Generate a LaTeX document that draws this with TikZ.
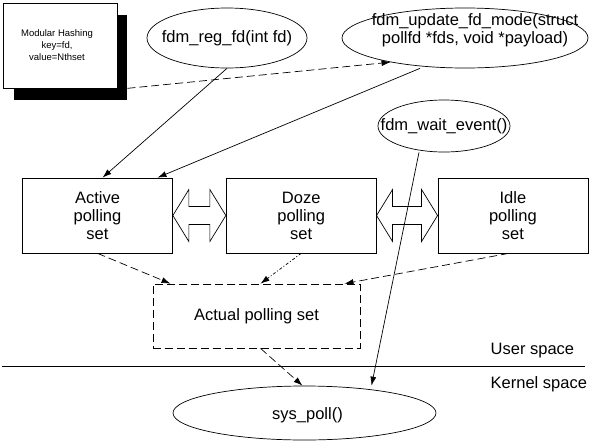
\documentclass[tikz,border=0pt]{standalone}
\usepackage{fontspec}
\setmainfont{Liberation Sans}
\usetikzlibrary{arrows.meta, positioning, shapes.geometric, calc}

\begin{document}
\begin{tikzpicture}[x=1pt,y=-1pt,line width=0.7pt,
    txt/.style={font=\fontsize{16.5}{18}\selectfont},
    setbox/.style={draw,txt,minimum width=150pt,minimum height=75pt,align=center,inner sep=0pt},
    ell/.style={draw,ellipse,inner sep=0pt},
    tip/.style={-{Latex[length=9pt,width=6pt]}},
    dsh/.style={dash pattern=on 8pt off 4pt},
    dshdot/.style={dash pattern=on 3pt off 2pt on 1pt off 2pt}]
  \useasboundingbox (0,0) rectangle (592,445);
  % hashing note with its drop shadow
  \node[fill=black,minimum width=113pt,minimum height=85pt] (hshadow) at (70.5,57.5) {};
  \node[draw,fill=white,minimum width=114pt,minimum height=85pt,align=center,
        font=\fontsize{9.5}{12}\selectfont] (hash) at (60,45.5) {\hspace*{-6pt}Modular Hashing\\\hspace*{-6pt}key=fd,\\\hspace*{-6pt}value=Nthset};
  % api calls
  \node[ell,minimum width=160pt,minimum height=60pt,
        label={[txt]center:fdm\_reg\_fd(int fd)}] (reg) at (227,38) {};
  \node[ell,minimum width=246pt,minimum height=60pt,
        label={[txt,align=center,xshift=10pt,yshift=8pt]center:fdm\_update\_fd\_mode(struct\\pollfd *fds, void *payload)}] (upd) at (465,38) {};
  \node[ell,minimum width=132pt,minimum height=52pt,
        label={[txt]center:fdm\_wait\_event()}] (wait) at (444,126) {};
  % polling sets
  \node[setbox] (act) at (97.5,215.5) {Active\\polling\\set};
  \node[setbox,right=53pt of act] (doz) {Doze\\polling\\set};
  \node[setbox,right=61pt of doz] (idl) {Idle\\polling\\set};
  \foreach \a/\b in {act/doz,doz/idl}
    \draw (\a.east) -- ++(16,-26) -- ++(0,17) -- ($(\b.west)+(-16,-9)$) -- ++(0,-17) -- (\b.west)
      -- ++(-16,26) -- ++(0,-17) -- ($(\a.east)+(16,9)$) -- ++(0,17) -- cycle;
  \node[draw,dsh,txt,minimum width=207pt,minimum height=64pt] (apl) at (256.5,316) {Actual polling set};
  % user / kernel boundary
  \draw (2,366) -- (585,366);
  \node[txt,anchor=west] (usr) at (487,351) {User space};
  \node[txt,anchor=west] (krn) at (487,384) {Kernel space};
  \node[ell,minimum width=263pt,minimum height=54pt,
        label={[txt,xshift=3pt,yshift=-2pt]center:sys\_poll()}] (sys) at (304.5,413) {};
  % connectors
  \draw[tip,dsh] ([yshift=12pt]hshadow.south east) -- (upd.198);
  \draw[tip] (reg.south) -- ([xshift=5pt]act.north);
  \draw[tip] ([xshift=-45pt]upd.south) -- ([xshift=60pt]act.north);
  \draw[tip] ([xshift=-25pt]wait.south) -- ([xshift=67pt]sys.north);
  \draw[tip,dsh] (act.south) -- ([xshift=-86pt]apl.north);
  \draw[tip,dshdot] (doz.south) -- ([xshift=4pt]apl.north);
  \draw[tip,dsh] ([xshift=-4pt]idl.south) -- ([xshift=88pt]apl.north);
  \draw[tip,dsh] ([xshift=4pt]apl.south) -- ([xshift=-2pt]sys.north);
\end{tikzpicture}
\end{document}
